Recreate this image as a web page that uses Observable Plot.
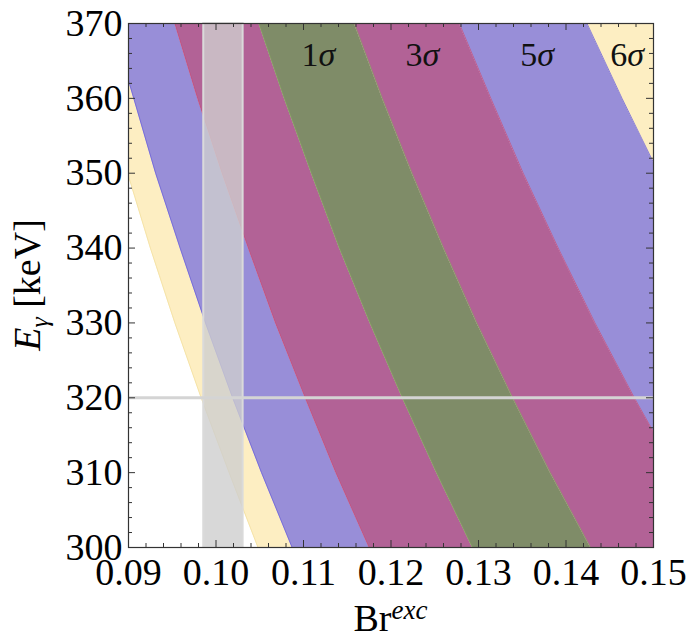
<!DOCTYPE html>
<html><head><meta charset="utf-8">
<script src="https://cdn.jsdelivr.net/npm/d3@7"></script>
<script src="https://cdn.jsdelivr.net/npm/@observablehq/plot@0.6"></script>
<style>body{margin:0;background:#fff} svg{display:block}</style>
</head><body><div id="chart"></div>
<script>
// Photon energy grid (keV) at which band edges were read
const energy = [300, 310, 320, 330, 340, 350, 360, 370];
// Band edges in Br^exc at each energy
const edge6L = [0.1048, 0.1015, 0.0983, 0.0953, 0.0925, 0.0899, 0.0874, 0.0850];
const edge5L = [0.1087, 0.1052, 0.1019, 0.0988, 0.0959, 0.0931, 0.0906, 0.0881];
const edge3L = [0.1175, 0.1137, 0.1102, 0.1068, 0.1037, 0.1007, 0.0979, 0.0953];
const edge1L = [0.1293, 0.1252, 0.1213, 0.1176, 0.1141, 0.1109, 0.1078, 0.1049];
const edge1R = [0.1428, 0.1382, 0.1339, 0.1298, 0.1260, 0.1224, 0.1190, 0.1158];
const edge3R = [0.1577, 0.1526, 0.1478, 0.1433, 0.1391, 0.1351, 0.1314, 0.1278];
const edge5R = [0.1757, 0.1700, 0.1647, 0.1597, 0.1550, 0.1506, 0.1464, 0.1424];
const edge6R = [0.2000, 0.2000, 0.2000, 0.2000, 0.2000, 0.2000, 0.2000, 0.2000];

// Gray vertical band (Br range) and horizontal reference line (keV)
const grayBand = [0.0986, 0.1031];
const refEnergy = [320];

// Sigma labels
const sigmaDigits = ["1", "3", "5", "6"];
const sigmaBr = [0.1117, 0.1236, 0.1367, 0.1470];
const sigmaE = [365.8, 365.8, 365.8, 365.8];

// Ticks
const xTicks = [0.09, 0.10, 0.11, 0.12, 0.13, 0.14, 0.15];
const yTicks = [300, 310, 320, 330, 340, 350, 360, 370];
const xMinor = d3.range(0.09, 0.1501, 0.002).map(v => +v.toFixed(3)).filter(v => !xTicks.some(t => Math.abs(t - v) < 1e-9));
const yMinor = d3.range(300, 371, 2).filter(v => v % 10 !== 0);

const yellow = "#fdeec2", blue = "#988ed8", magenta = "#b26296", green = "#7f8c68";
const bandDefs = [
  {left: edge6L, right: edge5L, fill: yellow},
  {left: edge5L, right: edge3L, fill: blue},
  {left: edge3L, right: edge1L, fill: magenta},
  {left: edge1L, right: edge1R, fill: green},
  {left: edge1R, right: edge3R, fill: magenta},
  {left: edge3R, right: edge5R, fill: blue},
  {left: edge5R, right: edge6R, fill: yellow}
];
const edgeLines = [
  {edge: edge6L, stroke: "#f3dfa0"},
  {edge: edge5L, stroke: "#6e63d6"},
  {edge: edge3L, stroke: "#c44f7c"},
  {edge: edge1L, stroke: "#86a060"},
  {edge: edge1R, stroke: "#86a060"},
  {edge: edge3R, stroke: "#c44f7c"},
  {edge: edge5R, stroke: "#6e63d6"}
];

const marks = [];
for (const b of bandDefs) {
  const rows = energy.map((E, i) => ({E, x1: b.left[i], x2: b.right[i]}));
  marks.push(Plot.areaX(rows, {y: "E", x1: "x1", x2: "x2", fill: b.fill, clip: true}));
}
for (const l of edgeLines) {
  const rows = energy.map((E, i) => ({E, x: l.edge[i]}));
  marks.push(Plot.line(rows, {x: "x", y: "E", stroke: l.stroke, strokeWidth: 0.8, clip: true}));
}
marks.push(
  Plot.rect([grayBand], {x1: d => d[0], x2: d => d[1], y1: 300, y2: 370, fill: "#cecece", fillOpacity: 0.8, stroke: "#dadada", strokeWidth: 2}),
  Plot.ruleY(refEnergy, {stroke: "#d4d4d4", strokeWidth: 3}),
  Plot.text(sigmaDigits.map((d, i) => ({d, x: sigmaBr[i], y: sigmaE[i]})), {x: "x", y: "y", text: "d", textAnchor: "end", fontSize: 34, fill: "#111"}),
  Plot.text(sigmaDigits.map((d, i) => ({d: "σ", x: sigmaBr[i], y: sigmaE[i]})), {x: "x", y: "y", text: "d", textAnchor: "start", fontSize: 34, fontStyle: "italic", fill: "#111"}),
  // inward ticks on all four sides
  Plot.ruleX(xTicks, {x: d => d, y1: 300, y2: 300, insetBottom: 7, stroke: "#333"}),
  Plot.ruleX(xMinor, {x: d => d, y1: 300, y2: 300, insetBottom: 4, stroke: "#333"}),
  Plot.ruleX(xTicks, {x: d => d, y1: 370, y2: 370, insetTop: 7, stroke: "#333"}),
  Plot.ruleX(xMinor, {x: d => d, y1: 370, y2: 370, insetTop: 4, stroke: "#333"}),
  Plot.ruleY(yTicks, {y: d => d, x1: 0.09, x2: 0.09, insetLeft: 7, stroke: "#333"}),
  Plot.ruleY(yMinor, {y: d => d, x1: 0.09, x2: 0.09, insetLeft: 4, stroke: "#333"}),
  Plot.ruleY(yTicks, {y: d => d, x1: 0.15, x2: 0.15, insetRight: 7, stroke: "#333"}),
  Plot.ruleY(yMinor, {y: d => d, x1: 0.15, x2: 0.15, insetRight: 4, stroke: "#333"}),
  Plot.frame({stroke: "#333", strokeWidth: 1.2}),
  Plot.axisX(xTicks, {anchor: "bottom", tickSize: 0, tickPadding: 11, tickFormat: d3.format(".2f"), fontSize: 38, label: null, fill: "#000"}),
  Plot.axisY(yTicks, {anchor: "left", tickSize: 0, tickPadding: 6, fontSize: 38, label: null, fill: "#000"})
);

const plot = Plot.plot({
  width: 689,
  height: 639,
  marginLeft: 128,
  marginRight: 36,
  marginTop: 23,
  marginBottom: 92,
  x: {domain: [0.09, 0.15]},
  y: {domain: [300, 370]},
  style: {fontFamily: "'Liberation Serif', 'DejaVu Serif', serif", fontSize: "38px", background: "#fff"},
  marks
});

const svg = d3.select(plot);
const xs = plot.scale("x"), ys = plot.scale("y");
const cx = (xs.apply(0.09) + xs.apply(0.15)) / 2;
const cy = (ys.apply(300) + ys.apply(370)) / 2;

const xl = svg.append("text")
  .attr("x", cx).attr("y", 631)
  .attr("text-anchor", "middle")
  .attr("font-family", "'Liberation Serif', serif")
  .attr("font-size", 38).attr("fill", "#000");
xl.append("tspan").text("Br");
xl.append("tspan").attr("font-style", "italic").attr("font-size", 27).attr("dy", -12).text("exc");

const yl = svg.append("text")
  .attr("transform", `translate(40,${cy}) rotate(-90)`)
  .attr("text-anchor", "middle")
  .attr("font-family", "'Liberation Serif', serif")
  .attr("font-size", 38).attr("fill", "#000");
yl.append("tspan").attr("font-style", "italic").text("E");
yl.append("tspan").attr("font-style", "italic").attr("font-size", 26).attr("dy", 8).text("γ");
yl.append("tspan").attr("dy", -8).text(" [keV]");

document.getElementById("chart").append(plot);
</script>
</body></html>
